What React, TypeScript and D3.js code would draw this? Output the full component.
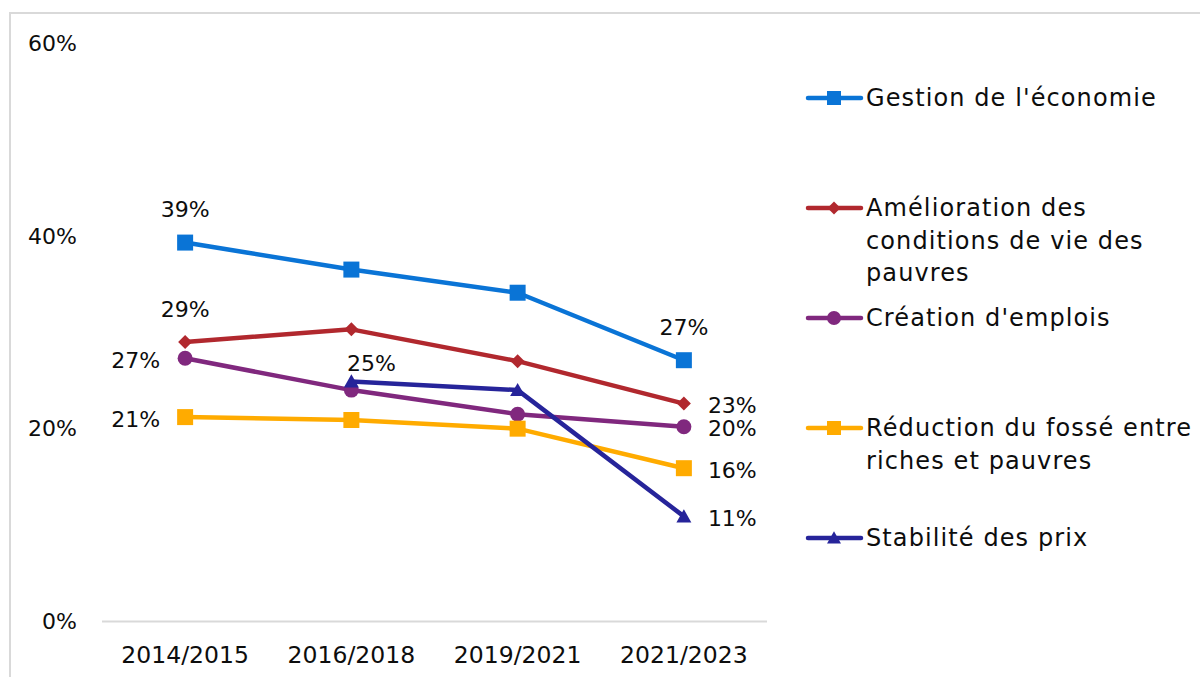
import React from 'react';
import * as d3 from 'd3';

const categories = ['2014/2015', '2016/2018', '2019/2021', '2021/2023'];
const seriesNames = [
  "Gestion de l'économie",
  'Amélioration des conditions de vie des pauvres',
  "Création d'emplois",
  'Réduction du fossé entre riches et pauvres',
  'Stabilité des prix',
];
const gestion = [0.393, 0.365, 0.341, 0.271];
const amelioration = [0.29, 0.303, 0.27, 0.226];
const creation = [0.273, 0.24, 0.215, 0.202];
const reduction = [0.212, 0.209, 0.2, 0.159];
const stabilite: (number | null)[] = [null, 0.249, 0.24, 0.109];
const yTicks = [0, 0.2, 0.4, 0.6];
const legendLines = [
  ["Gestion de l'économie"],
  ['Amélioration des', 'conditions de vie des', 'pauvres'],
  ["Création d'emplois"],
  ['Réduction du fossé entre', 'riches et pauvres'],
  ['Stabilité des prix'],
];
// data labels: [series, point, position]
const dataLabels: [number, number, string][] = [
  [0, 0, 'above'], [0, 3, 'above'],
  [1, 0, 'above'], [1, 3, 'right'],
  [2, 0, 'left'], [2, 3, 'right'],
  [3, 0, 'left'], [3, 3, 'right'],
  [4, 1, 'aboveRight'], [4, 3, 'right'],
];

const seriesValues = [gestion, amelioration, creation, reduction, stabilite];
const colors = ['#0A74D6', '#B1282E', '#80287E', '#FFAB00', '#26249A'];
const markers = ['square', 'diamond', 'circle', 'square', 'triangle'];

const W = 1200;
const H = 677;
const FONT = '"DejaVu Sans", sans-serif';

function markerPath(type: string, s: number) {
  const h = s / 2;
  switch (type) {
    case 'square':
      return `M${-h},${-h}H${h}V${h}H${-h}Z`;
    case 'diamond':
      return `M0,${-h}L${h},0L0,${h}L${-h},0Z`;
    case 'circle':
      return d3.symbol(d3.symbolCircle, Math.PI * h * h)() || '';
    case 'triangle':
      return `M0,${-h * 0.95}L${h},${h * 0.8}L${-h},${h * 0.8}Z`;
    default:
      return '';
  }
}
const markerSize: Record<string, number> = { square: 16, diamond: 14, circle: 15, triangle: 15 };
const legendMarkerSize: Record<string, number> = { square: 14, diamond: 13, circle: 14, triangle: 14 };

export default function App() {
  const x = d3.scaleBand<string>().domain(categories).range([102, 767]);
  const cx = (c: string) => (x(c) as number) + x.bandwidth() / 2;
  const y = d3.scaleLinear().domain([0, 0.6]).range([621.5, 43]);
  const fmt = d3.format('.0%');

  const line = d3
    .line<number | null>()
    .defined((d) => d !== null)
    .x((_, i) => cx(categories[i]))
    .y((d) => y(d as number));

  return (
    <svg
      width={W}
      height={H}
      style={{ position: 'absolute', left: 0, top: 0, background: '#fff' }}
      fontFamily={FONT}
    >
      <rect x={0} y={0} width={W} height={H} fill="#fff" />
      <rect x={10} y={13} width={1400} height={900} fill="none" stroke="#D9D9D9" strokeWidth={2} />

      {/* y axis labels */}
      {yTicks.map((t) => (
        <text key={t} x={77} y={y(t)} dy="0.35em" textAnchor="end" fontSize={22} fill="#0D0D0D">
          {fmt(t)}
        </text>
      ))}

      {/* x axis */}
      <line x1={102} x2={767} y1={y(0)} y2={y(0)} stroke="#D9D9D9" strokeWidth={2} />
      {categories.map((c) => (
        <text key={c} x={cx(c)} y={655} dy="0.35em" textAnchor="middle" fontSize={23.5} fill="#0D0D0D">
          {c}
        </text>
      ))}

      {/* lines */}
      {seriesValues.map((vals, si) => (
        <path
          key={si}
          d={line(vals) || ''}
          fill="none"
          stroke={colors[si]}
          strokeWidth={4.5}
          strokeLinejoin="round"
          strokeLinecap="round"
        />
      ))}

      {/* markers */}
      {seriesValues.map((vals, si) =>
        vals.map((v, i) =>
          v === null ? null : (
            <path
              key={`${si}-${i}`}
              d={markerPath(markers[si], markerSize[markers[si]])}
              transform={`translate(${cx(categories[i])},${y(v)})`}
              fill={colors[si]}
            />
          )
        )
      )}

      {/* data labels */}
      {dataLabels.map(([si, pi, pos]) => {
        const v = seriesValues[si][pi] as number;
        const px = cx(categories[pi]);
        const py = y(v);
        let tx = px;
        let ty = py;
        let anchor = 'middle';
        if (pos === 'above') {
          ty = py - 33;
        } else if (pos === 'aboveRight') {
          tx = px + 20;
          ty = py - 18;
        } else if (pos === 'left') {
          tx = px - 25;
          ty = py + 2;
          anchor = 'end';
        } else if (pos === 'right') {
          tx = px + 24;
          ty = py + 2;
          anchor = 'start';
        }
        return (
          <text
            key={`l-${si}-${pi}`}
            x={tx}
            y={ty}
            dy="0.35em"
            textAnchor={anchor}
            fontSize={22}
            fill="#0D0D0D"
          >
            {fmt(v)}
          </text>
        );
      })}

      {/* legend */}
      {seriesNames.map((name, si) => {
        const ly = 98 + si * 110;
        return (
          <g key={name}>
            <line x1={808} x2={861} y1={ly} y2={ly} stroke={colors[si]} strokeWidth={4.5} strokeLinecap="round" />
            <path
              d={markerPath(markers[si], legendMarkerSize[markers[si]])}
              transform={`translate(834,${ly})`}
              fill={colors[si]}
            />
            {legendLines[si].map((ln, li) => (
              <text
                key={li}
                x={866}
                y={ly + li * 32.5}
                dy="0.35em"
                fontSize={24}
                letterSpacing={1.1}
                fill="#0D0D0D"
              >
                {ln}
              </text>
            ))}
          </g>
        );
      })}
    </svg>
  );
}
